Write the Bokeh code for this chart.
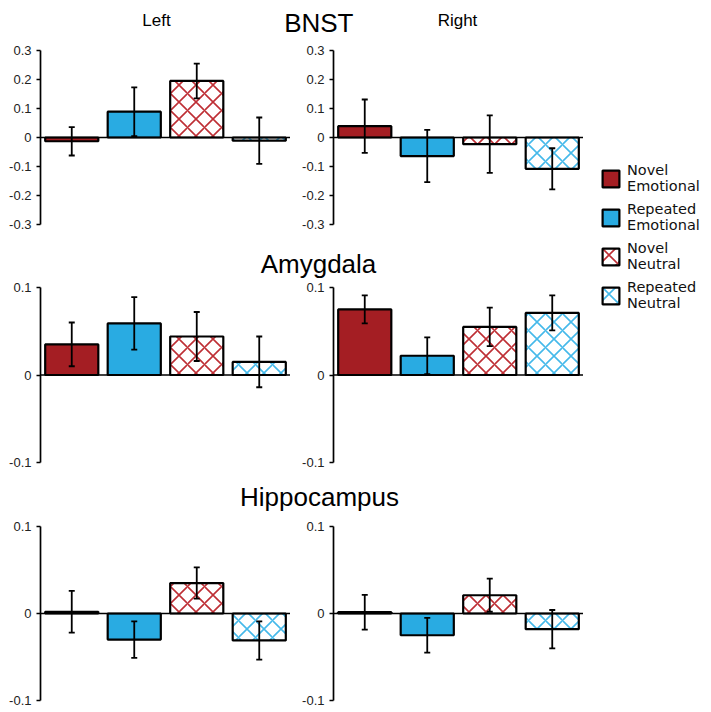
from bokeh.plotting import figure
from bokeh.models import (ColumnDataSource, Whisker, TeeHead, Span, FixedTicker,
                          CustomJSTickFormatter, Range1d, FactorRange, Label,
                          Legend, LegendItem)
from bokeh.layouts import row, column
from bokeh.embed import file_html
from bokeh.resources import INLINE

# ---------------- data ----------------
categories = ["Novel Emotional", "Repeated Emotional", "Novel Neutral", "Repeated Neutral"]
legend_labels = ["Novel\nEmotional", "Repeated\nEmotional", "Novel\nNeutral", "Repeated\nNeutral"]

bnst_left_mean = [-0.013, 0.089, 0.195, -0.011]
bnst_left_err = [0.049, 0.084, 0.060, 0.080]
bnst_right_mean = [0.039, -0.064, -0.023, -0.108]
bnst_right_err = [0.092, 0.090, 0.099, 0.071]

amy_left_mean = [0.035, 0.059, 0.044, 0.015]
amy_left_err = [0.025, 0.030, 0.028, 0.029]
amy_right_mean = [0.075, 0.022, 0.055, 0.071]
amy_right_err = [0.016, 0.021, 0.022, 0.020]

hip_left_mean = [0.002, -0.030, 0.035, -0.031]
hip_left_err = [0.024, 0.021, 0.018, 0.022]
hip_right_mean = [0.0015, -0.025, 0.021, -0.018]
hip_right_err = [0.020, 0.020, 0.019, 0.022]

bnst_ticks = [-0.3, -0.2, -0.1, 0, 0.1, 0.2, 0.3]
small_ticks = [-0.1, 0, 0.1]

# ---------------- styles ----------------
RED = "#A41E23"
BLUE = "#29ABE2"
HATCH_RED = "#BE2F35"
HATCH_BLUE = "#45B9EA"
fill_colors = [RED, BLUE, "white", "white"]
hatch_patterns = [" ", " ", "diagonal_cross", "diagonal_cross"]
hatch_colors = [RED, BLUE, HATCH_RED, HATCH_BLUE]

TFONT = "Liberation Sans"
LFONT = "DejaVu Sans"
FRAME_W = 250
MAIN_W = 583

fmt = CustomJSTickFormatter(code="return tick == 0 ? '0' : tick.toFixed(1);")


def panel(means, errs, lo, hi, ticks, left_border, frame_h, top=8, bottom=8):
    p = figure(frame_width=FRAME_W, frame_height=frame_h,
               x_range=FactorRange(factors=categories, range_padding=0, factor_padding=0),
               y_range=Range1d(lo, hi),
               toolbar_location=None, output_backend="svg",
               x_axis_location=None,
               min_border_left=left_border, min_border_right=0,
               min_border_top=top, min_border_bottom=bottom,
               outline_line_color=None)
    p.grid.visible = False
    src = ColumnDataSource(dict(
        x=categories, top=means,
        upper=[m + e for m, e in zip(means, errs)],
        lower=[m - e for m, e in zip(means, errs)],
        fill=fill_colors, hatch=hatch_patterns, hcolor=hatch_colors))
    p.vbar(x="x", top="top", bottom=0, width=0.85, source=src,
           fill_color="fill", line_color="black", line_width=2.2,
           hatch_pattern="hatch", hatch_color="hcolor", hatch_scale=17,
           hatch_weight=1.6)
    p.add_layout(Span(location=0, dimension="width", line_color="black", line_width=1.5))
    w = Whisker(source=src, base="x", upper="upper", lower="lower",
                line_color="black", line_width=1.8,
                upper_head=TeeHead(size=6, line_width=1.8, line_color="black"),
                lower_head=TeeHead(size=6, line_width=1.8, line_color="black"),
                level="annotation")
    p.add_layout(w)
    ax = p.yaxis[0]
    ax.ticker = FixedTicker(ticks=ticks)
    ax.formatter = fmt
    ax.minor_tick_line_color = None
    ax.major_tick_in = 0
    ax.major_tick_out = 4
    ax.axis_line_width = 1.7
    ax.major_tick_line_width = 1.7
    ax.major_label_text_font = TFONT
    ax.major_label_text_font_size = "13px"
    ax.major_label_text_color = "#222222"
    ax.major_label_standoff = 5
    return p


def header(h, labels):
    p = figure(frame_width=MAIN_W, frame_height=h,
               x_range=Range1d(0, MAIN_W), y_range=Range1d(h, 0),
               toolbar_location=None, output_backend="svg",
               x_axis_location=None, y_axis_location=None,
               min_border=0, outline_line_color=None)
    p.grid.visible = False
    for (x, y, txt, size, base) in labels:
        p.add_layout(Label(x=x, y=y, text=txt, text_align="center",
                           text_baseline=base, text_font=TFONT,
                           text_font_size=size, text_color="black"))
    return p


hdr1 = header(42, [(156, 20, "Left", "17px", "alphabetic"),
                   (457, 19.5, "Right", "17px", "alphabetic"),
                   (318.3, 22.6, "BNST", "26px", "middle")])
bl = panel(bnst_left_mean, bnst_left_err, -0.3, 0.3, bnst_ticks, 40, 174)
br = panel(bnst_right_mean, bnst_right_err, -0.3, 0.3, bnst_ticks, 43, 174)

hdr2 = header(47, [(318, 31.3, "Amygdala", "26px", "alphabetic")])
al = panel(amy_left_mean, amy_left_err, -0.1, 0.1, small_ticks, 40, 175)
ar = panel(amy_right_mean, amy_right_err, -0.1, 0.1, small_ticks, 43, 175)

hdr3 = header(48, [(319, 26.7, "Hippocampus", "26px", "alphabetic")])
hl = panel(hip_left_mean, hip_left_err, -0.1, 0.1, small_ticks, 40, 174)
hr = panel(hip_right_mean, hip_right_err, -0.1, 0.1, small_ticks, 43, 174)

main = column(hdr1, row(bl, br), hdr2, row(al, ar), hdr3, row(hl, hr))

# ---------------- legend ----------------
LEG_H = 708
lf = figure(frame_width=120, frame_height=LEG_H,
            x_range=FactorRange(factors=categories), y_range=Range1d(0, 1),
            toolbar_location=None, output_backend="svg",
            x_axis_location=None, y_axis_location=None,
            min_border=0, outline_line_color=None)
lf.grid.visible = False
items = []
for i, lab in enumerate(legend_labels):
    # bar with no height value (NaN) is never drawn: it only feeds the legend swatch
    r = lf.vbar(x=[categories[i]], top=[float("nan")], bottom=float("nan"), width=0.5,
                fill_color=fill_colors[i], line_color="black", line_width=2.2,
                hatch_pattern=hatch_patterns[i], hatch_color=hatch_colors[i],
                hatch_scale=17, hatch_weight=1.6)
    items.append(LegendItem(label=lab, renderers=[r]))
legend = Legend(items=items, location=(17, 397), glyph_width=21, glyph_height=21,
                label_standoff=6, spacing=7, padding=0, margin=0,
                border_line_color=None, background_fill_alpha=0,
                label_text_font=LFONT, label_text_font_size="14.5px",
                label_text_color="#111111")
lf.add_layout(legend)

page = row(main, lf)

open("out.html", "w").write(file_html(page, INLINE))
